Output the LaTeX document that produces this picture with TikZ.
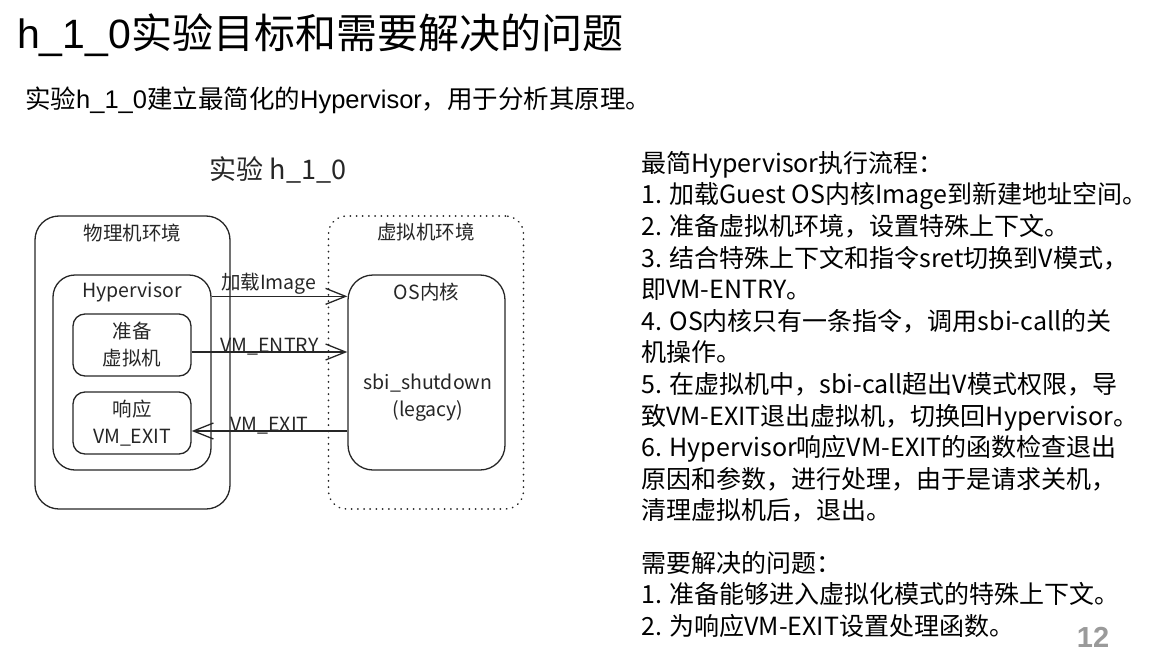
\documentclass[tikz,border=0pt]{standalone}
\usepackage{fontspec}
\setmainfont{Noto Sans CJK SC}
\newfontfamily\arialfont{Liberation Sans}
\usetikzlibrary{positioning}
\usetikzlibrary{arrows.meta}
\definecolor{drawGray}{HTML}{262626}
\definecolor{pageGray}{HTML}{9A9A9A}
\tikzset{
    envBox/.style={draw=drawGray, line width=1.3pt, rounded corners=24pt, minimum width=195pt, minimum height=293pt},
    innerBox/.style={draw=drawGray, line width=1.3pt, rounded corners=22pt, minimum width=158pt, minimum height=195pt},
    stepBox/.style={draw=drawGray, line width=1.3pt, rounded corners=12pt, minimum width=118pt, minimum height=62pt,
		align=center, text=drawGray, font=\fontsize{19.5}{27}\selectfont},
    boxLabel/.style={inner sep=0pt, text=drawGray, font=\fontsize{19.5}{27}\selectfont},
    flowArrow/.style={draw=drawGray, line width=1.3pt, -{Straight Barb[length=20pt,width=16pt]}},
    arrowLabel/.style={inner sep=0pt, anchor=base, text=drawGray, font=\fontsize{19.5}{27}\selectfont},
    listText/.style={inner sep=0pt, anchor=north west, align=left, font=\fontsize{25}{31.6}\selectfont}
}

\begin{document}
\begin{tikzpicture}[x=1pt, y=-1pt]
			\useasboundingbox (0,0) rectangle (1158,658);
			% slide heading
			\node[inner sep=0pt, anchor=base west, font=\fontsize{41}{48}\selectfont] (slideTitle) at (17,49) {{\arialfont h\_1\_0}实验目标和需要解决的问题};
			\node[inner sep=0pt, anchor=base west, font=\fontsize{25.5}{30}\selectfont] (slideIntro) at (25,109) {实验{\arialfont h\_1\_0}建立最简化的{\arialfont Hypervisor}，用于分析其原理。};
			% diagram
			\node[inner sep=0pt, text=drawGray, font=\fontsize{27}{32}\selectfont] (diagTitle) at (278,170) {实验 h\_1\_0};
			\node[envBox] (physEnv) at (132.5,362.5) {};
			\node[envBox, rounded corners=18pt, line width=1.6pt, line cap=round, dash pattern=on 0.4pt off 5.8pt] (virtEnv) at (426,362.5) {};
			\node[boxLabel, below=8pt of physEnv.north] (physLabel) {物理机环境};
			\node[boxLabel, below=8pt of virtEnv.north] (virtLabel) {虚拟机环境};
			\node[innerBox] (hypervisor) at (132,372.5) {};
			\node[boxLabel, below=8pt of hypervisor.north] (hypLabel) {Hypervisor};
			\node[stepBox] (prepVM) at (132,345) {准备\\虚拟机};
			\node[stepBox] (respVM) at (132,423) {响应\\VM\_EXIT};
			\node[innerBox, minimum width=157pt, rounded corners=25pt] (osKernel) at (426.5,372.5) {};
			\node[boxLabel, below=8pt of osKernel.north] (osLabel) {OS内核};
			\node[boxLabel, align=center] (sbiCall) at (428,398) {sbi\_shutdown\\(legacy)};
			\coordinate (entryEnd) at (osKernel.west |- prepVM.east);
			\coordinate (exitStart) at (osKernel.west |- respVM.east);
			\draw[flowArrow] ([yshift=-22pt]hypervisor.north east) -- ([yshift=-22pt]osKernel.north west) node[arrowLabel, pos=0.42, yshift=7pt] (loadLbl) {加载Image};
			\draw[flowArrow] ([yshift=-7pt]prepVM.east) -- ([yshift=-7pt]entryEnd) node[arrowLabel, midway] (entryLbl) {VM\_ENTRY};
			\draw[flowArrow] ([yshift=-8pt]exitStart) -- ([yshift=-8pt]respVM.east) node[arrowLabel, midway] (exitLbl) {VM\_EXIT};
			% text on the right
			\node[listText] (flowText) at (641,151) {最简Hypervisor执行流程：\\
				1. 加载Guest OS内核Image到新建地址空间。\\
				2. 准备虚拟机环境，设置特殊上下文。\\
				3. 结合特殊上下文和指令sret切换到V模式，\\
				即VM-ENTRY。\\
				4. OS内核只有一条指令，调用sbi-call的关\\
				机操作。\\
				5. 在虚拟机中，sbi-call超出V模式权限，导\\
				致VM-EXIT退出虚拟机，切换回Hypervisor。\\
				6. Hypervisor响应VM-EXIT的函数检查退出\\
				原因和参数，进行处理，由于是请求关机，\\
				清理虚拟机后，退出。};
			\node[listText] (problemText) at (641,551) {需要解决的问题：\\
				1. 准备能够进入虚拟化模式的特殊上下文。\\
				2. 为响应VM-EXIT设置处理函数。};
			\node[inner sep=0pt, text=pageGray, font=\arialfont\bfseries\fontsize{29}{30}\selectfont] (pageNum) at (1093,637) {12};
		\end{tikzpicture}
\end{document}
